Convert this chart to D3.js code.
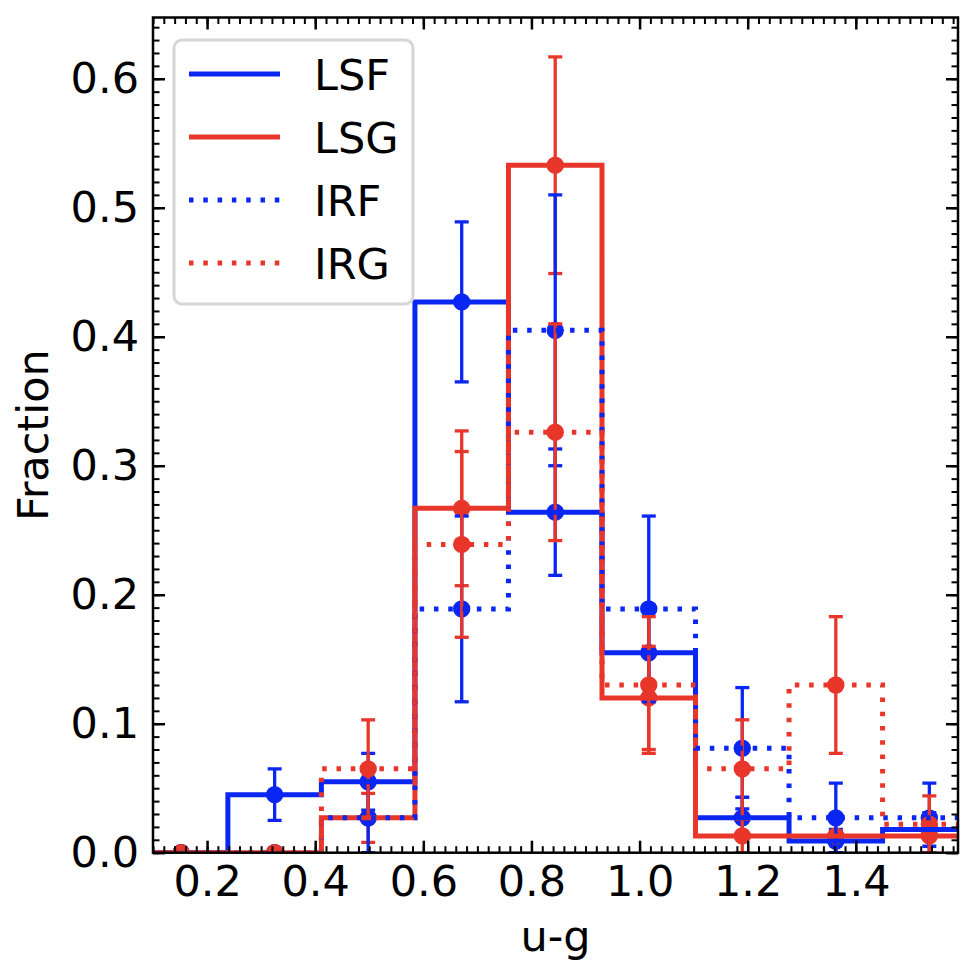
<!DOCTYPE html>
<html lang="en">
<head>
  <meta charset="UTF-8">
  <title>u-g fraction</title>
  <script src="https://d3js.org/d3.v7.min.js"></script>
  <style>
    body { margin: 0; background: #fff; }
    text { font-family: "DejaVu Sans", sans-serif; }
  </style>
</head>
<body>
  <svg id="chart" width="976" height="974"></svg>
  <script>
    // bin edges of the u-g histogram
    let binEdges = [0.0655, 0.2385, 0.4115, 0.5845, 0.7575, 0.9305, 1.1035, 1.2765, 1.4495, 1.6225];
    let binCenters = [0.152, 0.325, 0.498, 0.671, 0.844, 1.017, 1.190, 1.363, 1.536];

    let lsf = [0, 0.045, 0.055, 0.427, 0.264, 0.155, 0.027, 0.009, 0.018];
    let lsfErr = [0, 0.020, 0.022, 0.062, 0.049, 0.037, 0.016, 0.009, 0.013];
    let lsg = [0, 0, 0.027, 0.267, 0.533, 0.120, 0.013, 0.013, 0.013];
    let lsgErr = [0, 0, 0.019, 0.060, 0.084, 0.040, 0.013, 0.013, 0.013];
    let irf = [0, 0, 0.027, 0.189, 0.405, 0.189, 0.081, 0.027, 0.027];
    let irfErr = [0, 0, 0.027, 0.072, 0.105, 0.072, 0.047, 0.027, 0.027];
    let irg = [0, 0, 0.065, 0.239, 0.326, 0.130, 0.065, 0.130, 0.022];
    let irgErr = [0, 0, 0.038, 0.072, 0.084, 0.053, 0.038, 0.053, 0.022];

    let seriesNames = ['LSF', 'LSG', 'IRF', 'IRG'];
    let xTicks = [0.2, 0.4, 0.6, 0.8, 1.0, 1.2, 1.4];
    let yTicks = [0.0, 0.1, 0.2, 0.3, 0.4, 0.5, 0.6];

    let blue = '#0a26f2', red = '#e8362b';
    let series = [
      { name: 'LSF', values: lsf, err: lsfErr, color: blue, dash: null },
      { name: 'LSG', values: lsg, err: lsgErr, color: red, dash: null },
      { name: 'IRF', values: irf, err: irfErr, color: blue, dash: '4.5,9.8' },
      { name: 'IRG', values: irg, err: irgErr, color: red, dash: '4.5,9.8' }
    ];

    let pLeft = 153, pRight = 958, pTop = 17.5, pBottom = 852.7;
    let x = d3.scaleLinear().domain([0.1, 1.589]).range([pLeft, pRight]);
    let y = d3.scaleLinear().domain([0, 0.6475]).range([pBottom, pTop]);

    let svg = d3.select('#chart');

    svg.append('clipPath').attr('id', 'plotClip')
      .append('rect')
      .attr('x', pLeft).attr('y', pTop)
      .attr('width', pRight - pLeft).attr('height', pBottom - pTop);

    let plot = svg.append('g').attr('clip-path', 'url(#plotClip)');

    // error bars and points first
    series.forEach(function (s) {
      let g = plot.append('g').attr('stroke', s.color).attr('fill', s.color);
      s.values.forEach(function (v, i) {
        let cx = x(binCenters[i]);
        let e = s.err[i];
        if (e > 0) {
          g.append('line')
            .attr('x1', cx).attr('x2', cx)
            .attr('y1', y(v - e)).attr('y2', y(v + e))
            .attr('stroke-width', 3.3);
          [v - e, v + e].forEach(function (c) {
            g.append('line')
              .attr('x1', cx - 7).attr('x2', cx + 7)
              .attr('y1', y(c)).attr('y2', y(c))
              .attr('stroke-width', 3.3);
          });
        }
        g.append('circle')
          .attr('cx', cx).attr('cy', y(v))
          .attr('r', 8.7)
          .attr('stroke', 'none');
      });
    });

    // step outlines on top
    let line = d3.line().x(function (d) { return x(d[0]); }).y(function (d) { return y(d[1]); });
    function stepPoints(values) {
      let pts = [[binEdges[0], 0]];
      values.forEach(function (v, i) {
        pts.push([binEdges[i], v]);
        pts.push([binEdges[i + 1], v]);
      });
      pts.push([binEdges[binEdges.length - 1], 0]);
      return pts;
    }

    series.forEach(function (s) {
      plot.append('path')
        .attr('d', line(stepPoints(s.values)))
        .attr('fill', 'none')
        .attr('stroke', s.color)
        .attr('stroke-width', 5)
        .attr('stroke-linejoin', 'miter')
        .attr('stroke-dasharray', s.dash);
    });

    // axes: ticks point inward on all four sides
    function styleAxis(sel) {
      sel.select('.domain').remove();
      sel.selectAll('.tick line').attr('stroke', '#000');
      sel.selectAll('.tick text').attr('fill', '#000').attr('font-size', 43)
        .attr('font-family', '"DejaVu Sans", sans-serif');
    }

    let xMinor = d3.range(0.1, 1.5891, 0.02);
    let yMinor = d3.range(0, 0.648, 0.01);

    function addAxis(axis, tx, ty, width, labels) {
      let g = svg.append('g').attr('transform', 'translate(' + tx + ',' + ty + ')').call(axis);
      styleAxis(g);
      g.selectAll('.tick line').attr('stroke-width', width);
      if (!labels) g.selectAll('.tick text').remove();
      return g;
    }

    addAxis(d3.axisBottom(x).tickValues(xMinor).tickSize(-6.5).tickFormat(''), 0, pBottom, 2, false);
    addAxis(d3.axisTop(x).tickValues(xMinor).tickSize(-6.5).tickFormat(''), 0, pTop, 2, false);
    addAxis(d3.axisLeft(y).tickValues(yMinor).tickSize(-6.5).tickFormat(''), pLeft, 0, 2, false);
    addAxis(d3.axisRight(y).tickValues(yMinor).tickSize(-6.5).tickFormat(''), pRight, 0, 2, false);

    addAxis(d3.axisBottom(x).tickValues(xTicks).tickSize(-12).tickPadding(13).tickFormat(d3.format('.1f')), 0, pBottom, 2.5, true);
    addAxis(d3.axisTop(x).tickValues(xTicks).tickSize(-12).tickFormat(''), 0, pTop, 2.5, false);
    addAxis(d3.axisLeft(y).tickValues(yTicks).tickSize(-12).tickPadding(14).tickFormat(d3.format('.1f')), pLeft, 0, 2.5, true);
    addAxis(d3.axisRight(y).tickValues(yTicks).tickSize(-12).tickFormat(''), pRight, 0, 2.5, false);

    svg.append('rect')
      .attr('x', pLeft).attr('y', pTop)
      .attr('width', pRight - pLeft).attr('height', pBottom - pTop)
      .attr('fill', 'none').attr('stroke', '#000').attr('stroke-width', 2.5);

    // axis titles
    svg.append('text')
      .attr('x', (pLeft + pRight) / 2).attr('y', 951)
      .attr('text-anchor', 'middle').attr('font-size', 43)
      .text('u-g');
    svg.append('text')
      .attr('transform', 'translate(48,' + (pTop + pBottom) / 2 + ') rotate(-90)')
      .attr('text-anchor', 'middle').attr('font-size', 43)
      .text('Fraction');

    // legend
    let legend = svg.append('g');
    legend.append('rect')
      .attr('x', 174).attr('y', 40)
      .attr('width', 239).attr('height', 264)
      .attr('rx', 8)
      .attr('fill', '#fff').attr('fill-opacity', 0.8)
      .attr('stroke', '#d6d6d6').attr('stroke-width', 3);
    let rowY = d3.scalePoint().domain(seriesNames).range([74, 263]);
    series.forEach(function (s) {
      legend.append('line')
        .attr('x1', 189).attr('x2', 280)
        .attr('y1', rowY(s.name)).attr('y2', rowY(s.name))
        .attr('stroke', s.color).attr('stroke-width', 5)
        .attr('stroke-dasharray', s.dash);
      legend.append('text')
        .attr('x', 314).attr('y', rowY(s.name) + 15.5)
        .attr('font-size', 43)
        .text(s.name);
    });
  </script>
</body>
</html>
